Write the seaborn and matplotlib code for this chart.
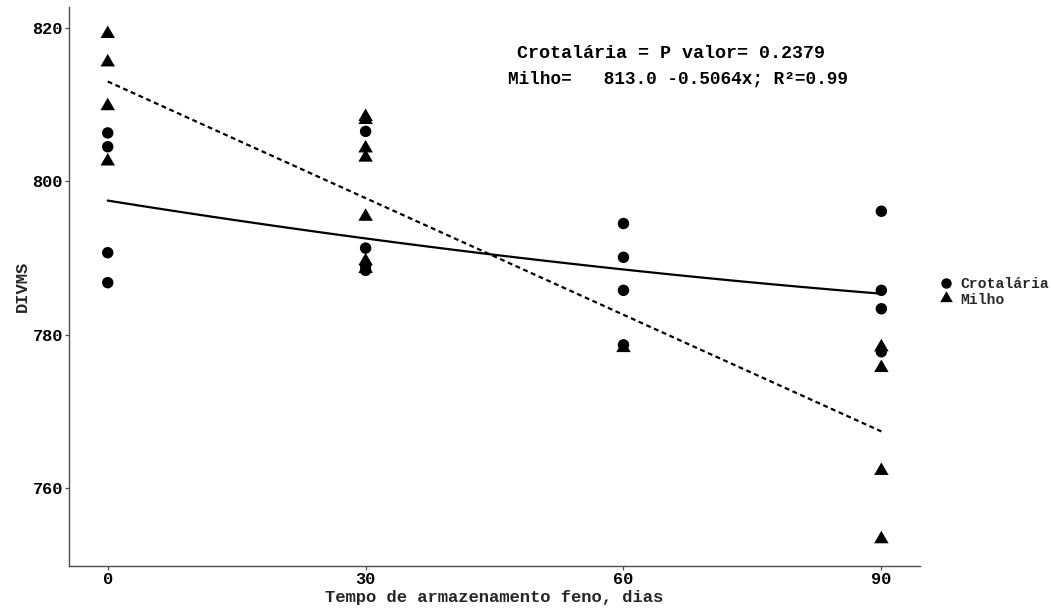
import numpy as np
import pandas as pd
import matplotlib
matplotlib.use("Agg")
import matplotlib.pyplot as plt
from matplotlib.lines import Line2D
import seaborn as sns

# Storage time (days) and in-vitro dry-matter digestibility per hay type
crot_tempo = [0, 0, 0, 0, 30, 30, 30, 30, 60, 60, 60, 60, 90, 90, 90, 90]
crot_divms = [806.3, 804.5, 790.7, 786.8,
              806.5, 791.3, 789.0, 788.4,
              794.5, 790.1, 785.8, 778.7,
              796.1, 785.8, 783.4, 777.8]

milho_tempo = [0, 0, 0, 0, 30, 30, 30, 30, 30, 30, 30, 60, 90, 90, 90, 90]
milho_divms = [819.2, 815.5, 809.8, 802.6,
               808.4, 808.0, 804.3, 803.1, 795.4, 789.6, 788.6,
               778.3,
               778.4, 775.7, 762.3, 753.4]

# Linear fit reported for Milho
milho_b0 = 813.0
milho_b1 = -0.5064

x_ticks = [0, 30, 60, 90]
y_ticks = [760, 780, 800, 820]
grupos = ["Crotalária", "Milho"]

anot_crot = "Crotalária = P valor= 0.2379"
anot_milho = "Milho=   813.0 -0.5064x; R²=0.99"

sns.set_theme(style="white")
plt.rcParams["font.family"] = ["Liberation Mono", "DejaVu Sans Mono"]

crot = pd.DataFrame({"tempo": crot_tempo, "divms": crot_divms})
milho = pd.DataFrame({"tempo": milho_tempo, "divms": milho_divms})

fig = plt.figure(figsize=(10.51, 6.08), dpi=100)
ax = fig.add_axes([0.0657, 0.0691, 0.8097, 0.9194])

tri = (3, 0, 0)  # equilateral triangle

sns.scatterplot(data=crot, x="tempo", y="divms", marker="o", s=68,
                color="black", edgecolor="none", linewidth=0, ax=ax, zorder=3)
sns.scatterplot(data=milho, x="tempo", y="divms", marker=tri, s=145,
                color="black", edgecolor="none", linewidth=0, ax=ax, zorder=4)

# Quadratic trend for Crotalária
sns.regplot(data=crot, x="tempo", y="divms", order=2, ci=None, scatter=False,
            truncate=True, ax=ax,
            line_kws={"color": "black", "lw": 1.6, "zorder": 2})

# Linear trend for Milho from the reported coefficients
xs = np.array([min(milho_tempo), max(milho_tempo)], dtype=float)
sns.lineplot(x=xs, y=milho_b0 + milho_b1 * xs, ax=ax, color="black",
             lw=1.6, linestyle=(0, (2.2, 1.6)), zorder=2)

ax.set_xlim(-4.5, 94.5)
ax.set_ylim(749.9, 822.7)
ax.set_xticks(x_ticks)
ax.set_yticks(y_ticks)

for side in ["top", "right"]:
    ax.spines[side].set_visible(False)
for side in ["left", "bottom"]:
    ax.spines[side].set_color("#4d4d4d")
    ax.spines[side].set_linewidth(1.0)

ax.tick_params(axis="both", which="major", length=3.0, width=0.9,
               color="#4d4d4d", labelsize=12.2, labelcolor="black", pad=1.5,
               left=True, bottom=True)
for lab in ax.get_xticklabels() + ax.get_yticklabels():
    lab.set_fontweight("bold")

ax.set_xlabel("Tempo de armazenamento feno, dias", fontsize=12.3,
              fontweight="bold", labelpad=2)
ax.set_ylabel("DIVMS", fontsize=12.3, fontweight="bold", labelpad=2)

ax.text(65.56, 816.7, anot_crot, ha="center", va="center", fontsize=13.2,
        fontweight="bold", color="black")
ax.text(66.3, 813.3, anot_milho, ha="center", va="center", fontsize=12.8,
        fontweight="bold", color="black")

handles = [
    Line2D([], [], marker="o", linestyle="none", color="black",
           markersize=7.5, markeredgewidth=0),
    Line2D([], [], marker=tri, linestyle="none", color="black",
           markersize=10.5, markeredgewidth=0),
]
leg = fig.legend(handles, grupos, loc="center left",
                 bbox_to_anchor=(0.883, 0.52), frameon=False,
                 prop={"family": "Liberation Mono", "weight": "bold",
                       "size": 10.6},
                 handlelength=1.0, handletextpad=0.5, labelspacing=0.1,
                 borderpad=0.2)

fig.savefig("out.png", dpi=100)
